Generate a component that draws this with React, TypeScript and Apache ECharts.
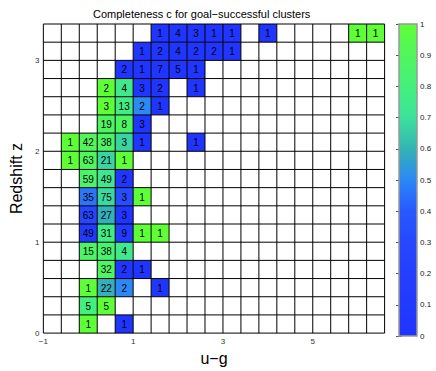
import React, { useEffect, useRef } from "react";
import * as echarts from "echarts";

const UG_STEP = 0.4;
const Z_STEP = 0.2;
const UG_MIN = -1;
const UG_MAX = 6.6;
const Z_MIN = 0;
const Z_MAX = 3.4;

// lower edge of each occupied u−g bin
const cellUg = [
  1.4, 1.8, 2.2, 2.6, 3.0, 3.8, 5.8, 6.2,
  1.0, 1.4, 1.8, 2.2, 2.6, 3.0,
  0.6, 1.0, 1.4, 1.8, 2.2,
  0.2, 0.6, 1.0, 1.4, 2.2,
  0.2, 0.6, 1.0, 1.4,
  0.2, 0.6, 1.0,
  -0.6, -0.2, 0.2, 0.6, 1.0, 2.2,
  -0.6, -0.2, 0.2, 0.6,
  -0.2, 0.2, 0.6,
  -0.2, 0.2, 0.6, 1.0,
  -0.2, 0.2, 0.6,
  -0.2, 0.2, 0.6, 1.0, 1.4,
  -0.2, 0.2, 0.6,
  0.2, 0.6, 1.0,
  -0.2, 0.2, 0.6, 1.4,
  -0.2, 0.2,
  -0.2, 0.6,
];
// lower edge of each occupied redshift bin
const cellZ = [
  3.2, 3.2, 3.2, 3.2, 3.2, 3.2, 3.2, 3.2,
  3.0, 3.0, 3.0, 3.0, 3.0, 3.0,
  2.8, 2.8, 2.8, 2.8, 2.8,
  2.6, 2.6, 2.6, 2.6, 2.6,
  2.4, 2.4, 2.4, 2.4,
  2.2, 2.2, 2.2,
  2.0, 2.0, 2.0, 2.0, 2.0, 2.0,
  1.8, 1.8, 1.8, 1.8,
  1.6, 1.6, 1.6,
  1.4, 1.4, 1.4, 1.4,
  1.2, 1.2, 1.2,
  1.0, 1.0, 1.0, 1.0, 1.0,
  0.8, 0.8, 0.8,
  0.6, 0.6, 0.6,
  0.4, 0.4, 0.4, 0.4,
  0.2, 0.2,
  0.0, 0.0,
];
const cellCount = [
  1, 4, 3, 1, 1, 1, 1, 1,
  1, 2, 4, 2, 2, 1,
  2, 1, 7, 5, 1,
  2, 4, 3, 2, 1,
  3, 13, 2, 1,
  19, 8, 3,
  1, 42, 38, 3, 1, 1,
  1, 63, 21, 1,
  59, 49, 2,
  35, 75, 3, 1,
  63, 27, 3,
  49, 31, 9, 1, 1,
  15, 38, 4,
  32, 2, 1,
  1, 22, 2, 1,
  5, 5,
  1, 1,
];
const cellCompleteness = [
  0, 0, 0, 0, 0, 0, 1, 1,
  0, 0, 0, 0, 0, 0,
  0, 0, 0, 0, 0,
  1, 0.75, 0, 0, 0,
  1, 0.77, 0.5, 0,
  0.89, 0.88, 0,
  1, 0.9, 0.87, 0.67, 0, 0,
  1, 0.9, 0.67, 1,
  0.85, 0.73, 0,
  0.46, 0.68, 0.33, 1,
  0.27, 0.59, 0,
  0.12, 0.77, 0.11, 1, 1,
  0.87, 0.84, 0.75,
  0.88, 0, 0,
  1, 0.59, 0.5, 0,
  0.8, 1,
  1, 0,
];

const colorScale = [
  "#2035ff", "#2239ff", "#243fff", "#2648ff", "#2858ff", "#2b88f5",
  "#34b4b4", "#3ce29a", "#44f07c", "#50f65c", "#5eff36",
];

const FONT = "Liberation Sans, Arial, Helvetica, sans-serif";

export default function App() {
  const ref = useRef<HTMLDivElement>(null);
  useEffect(() => {
    if (!ref.current) return;
    const chart = echarts.init(ref.current, null, { renderer: "svg" });
    const cellData = cellUg.map((u, i) => [u, cellZ[i], cellCount[i], cellCompleteness[i]]);
    const minus = (v: number) => String(v).replace("-", "\u2212");
    chart.setOption({
      animation: false,
      textStyle: { fontFamily: FONT },
      title: {
        text: "Completeness c for goal\u2212successful clusters",
        left: 88,
        top: 3,
        textStyle: { fontSize: 11, fontWeight: "normal", color: "#000", fontFamily: FONT },
      },
      grid: [
        { left: 35, top: 24, width: 349.6, height: 312.8 },
        { left: 399, top: 24, width: 18, height: 312 },
      ],
      xAxis: [
        {
          type: "value",
          gridIndex: 0,
          min: UG_MIN,
          max: UG_MAX,
          interval: 2,
          name: "u\u2212g",
          nameLocation: "middle",
          nameGap: 10,
          nameTextStyle: { fontSize: 16, color: "#000", fontFamily: FONT },
          axisLine: { show: false },
          axisTick: { show: false },
          splitLine: { show: false },
          axisLabel: { fontSize: 8, color: "#333", margin: 4, showMaxLabel: false, formatter: minus },
        },
        { type: "value", gridIndex: 1, min: 0, max: 1, show: false },
      ],
      yAxis: [
        {
          type: "value",
          gridIndex: 0,
          min: Z_MIN,
          max: Z_MAX,
          interval: 1,
          name: "Redshift z",
          nameLocation: "middle",
          nameGap: 12,
          nameTextStyle: { fontSize: 16, color: "#000", fontFamily: FONT },
          axisLine: { show: false },
          axisTick: { show: false },
          splitLine: { show: false },
          axisLabel: { fontSize: 8, color: "#333", margin: 4, showMaxLabel: false },
        },
        {
          type: "value",
          gridIndex: 1,
          min: 0,
          max: 1,
          interval: 0.1,
          position: "right",
          axisLine: { show: false },
          splitLine: { show: false },
          axisTick: { show: true, inside: true, length: 3, lineStyle: { color: "#555" } },
          axisLabel: { fontSize: 8, color: "#222", margin: 3 },
        },
        {
          type: "value",
          gridIndex: 1,
          min: 0,
          max: 1,
          interval: 0.1,
          position: "left",
          axisLine: { show: false },
          splitLine: { show: false },
          axisTick: { show: true, inside: true, length: 3, lineStyle: { color: "#555" } },
          axisLabel: { show: false },
        },
      ],
      visualMap: {
        type: "continuous",
        show: false,
        min: 0,
        max: 1,
        dimension: 3,
        seriesIndex: 0,
        inRange: { color: colorScale },
      },
      series: [
        {
          type: "custom",
          xAxisIndex: 0,
          yAxisIndex: 0,
          data: cellData,
          z: 2,
          renderItem: (params: any, api: any) => {
            const u = api.value(0);
            const z = api.value(1);
            const p0 = api.coord([u, z]);
            const p1 = api.coord([u + UG_STEP, z + Z_STEP]);
            return {
              type: "group",
              children: [
                {
                  type: "rect",
                  shape: { x: p0[0], y: p1[1], width: p1[0] - p0[0], height: p0[1] - p1[1] },
                  style: { fill: api.visual("color") },
                },
                {
                  type: "text",
                  x: (p0[0] + p1[0]) / 2,
                  y: (p0[1] + p1[1]) / 2 + 0.5,
                  z2: 10,
                  style: {
                    text: String(api.value(2)),
                    align: "center",
                    verticalAlign: "middle",
                    fontSize: 10,
                    fontFamily: FONT,
                    fill: "#000",
                  },
                },
              ],
            };
          },
        },
        {
          type: "custom",
          xAxisIndex: 0,
          yAxisIndex: 0,
          data: [[0]],
          z: 3,
          silent: true,
          renderItem: (params: any, api: any) => {
            const children: any[] = [];
            const nx = Math.round((UG_MAX - UG_MIN) / UG_STEP);
            const nz = Math.round((Z_MAX - Z_MIN) / Z_STEP);
            for (let k = 0; k <= nx; k++) {
              const x = UG_MIN + k * UG_STEP;
              const a = api.coord([x, Z_MIN]);
              const b = api.coord([x, Z_MAX]);
              children.push({
                type: "line",
                shape: { x1: a[0], y1: a[1], x2: b[0], y2: b[1] },
                style: { stroke: "#000", lineWidth: 1 },
              });
            }
            for (let k = 0; k <= nz; k++) {
              const y = Z_MIN + k * Z_STEP;
              const a = api.coord([UG_MIN, y]);
              const b = api.coord([UG_MAX, y]);
              children.push({
                type: "line",
                shape: { x1: a[0], y1: a[1], x2: b[0], y2: b[1] },
                style: { stroke: "#000", lineWidth: 1 },
              });
            }
            return { type: "group", children };
          },
        },
        {
          type: "custom",
          xAxisIndex: 1,
          yAxisIndex: 1,
          data: [[0]],
          silent: true,
          renderItem: (params: any, api: any) => {
            const p0 = api.coord([0, 0]);
            const p1 = api.coord([1, 1]);
            const stops = colorScale.map((c, i) => ({ offset: i / (colorScale.length - 1), color: c }));
            return {
              type: "rect",
              shape: { x: p0[0], y: p1[1], width: p1[0] - p0[0], height: p0[1] - p1[1] },
              style: {
                fill: new echarts.graphic.LinearGradient(0, 1, 0, 0, stops),
                stroke: "#999",
                lineWidth: 1.5,
              },
            };
          },
        },
      ],
    });
    return () => chart.dispose();
  }, []);
  return (
    <div
      ref={ref}
      style={{ position: "fixed", left: 0, top: 0, width: 436, height: 371, background: "#fff" }}
    />
  );
}
